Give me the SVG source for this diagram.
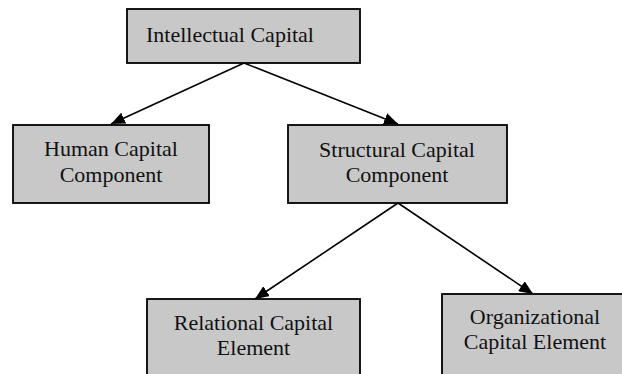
<svg xmlns="http://www.w3.org/2000/svg" width="622" height="374" viewBox="0 0 622 374">
<style>
.box{fill:#c8c8c8;stroke:#000;stroke-width:1.8}
.lbl{font-family:"Liberation Serif","Times New Roman",serif;font-size:22px;fill:#111}
.c{text-anchor:middle}
.edge{stroke:#000;stroke-width:1.6;fill:none;marker-end:url(#ah)}
</style>
<defs>
<marker id="ah" markerUnits="userSpaceOnUse" viewBox="0 0 14 12" refX="14" refY="6" markerWidth="14" markerHeight="12" orient="auto">
<path d="M0,0 L14,6 L0,12 z" fill="#000"/>
</marker>
</defs>
<rect width="622" height="374" fill="#fff"/>
<g id="connectors">
<line class="edge" x1="244" y1="63" x2="111" y2="124"/>
<line class="edge" x1="244" y1="63" x2="398" y2="124"/>
<line class="edge" x1="398" y1="203" x2="255" y2="299"/>
<line class="edge" x1="398" y1="203" x2="533" y2="294"/>
</g>
<g id="intellectual-capital">
<rect class="box" x="127" y="9" width="233" height="54"/>
<text class="lbl" x="146" y="42">Intellectual Capital</text>
</g>
<g id="human-capital">
<rect class="box" x="13" y="125" width="196" height="78"/>
<text class="lbl c" x="111" y="156">Human Capital</text>
<text class="lbl c" x="111" y="182">Component</text>
</g>
<g id="structural-capital">
<rect class="box" x="288" y="125" width="219" height="78"/>
<text class="lbl c" x="397" y="157">Structural Capital</text>
<text class="lbl c" x="397" y="182">Component</text>
</g>
<g id="relational-capital">
<rect class="box" x="147" y="299" width="213" height="82"/>
<text class="lbl c" x="253.5" y="330">Relational Capital</text>
<text class="lbl c" x="253.5" y="355">Element</text>
</g>
<g id="organizational-capital">
<rect class="box" x="442" y="294" width="185" height="87"/>
<text class="lbl c" x="535" y="324">Organizational</text>
<text class="lbl c" x="535" y="349">Capital Element</text>
</g>
</svg>
